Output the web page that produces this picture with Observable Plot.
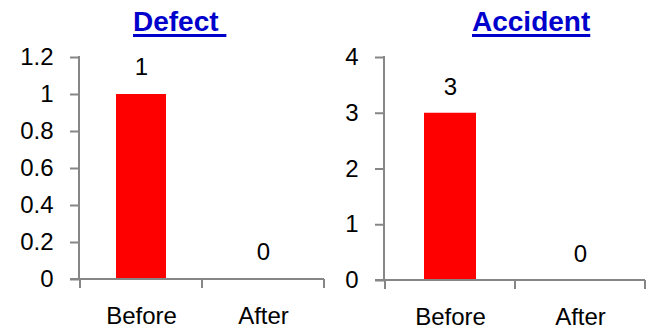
<!DOCTYPE html>
<html>
<head>
<meta charset="utf-8">
<script src="https://cdn.jsdelivr.net/npm/d3@7"></script>
<script src="https://cdn.jsdelivr.net/npm/@observablehq/plot@0.6"></script>
<style>
  html, body { margin: 0; padding: 0; background: #fff; }
  #wrap { position: relative; width: 651px; height: 334px; overflow: hidden; font-family: "Liberation Sans", Arial, sans-serif; }
  .title { position: absolute; top: 8px; font-size: 28px; line-height: 28px; font-weight: bold; color: #0000CC;
           white-space: pre; text-decoration: underline; text-decoration-thickness: 3px; text-underline-offset: 3px; }
  #row { position: absolute; top: 44px; left: 0; display: flex; }
  #row svg { display: block; }
</style>
</head>
<body>
<div id="wrap">
  <span class="title" id="t1" style="left:133px"></span>
  <span class="title" id="t2" style="left:472px"></span>
  <div id="row"></div>
</div>
<script>
const categories = ["Before", "After"];
const defectValues = [1, 0];
const accidentValues = [3, 0];
const defectTicks = [0, 0.2, 0.4, 0.6, 0.8, 1, 1.2];
const accidentTicks = [0, 1, 2, 3, 4];
const chartTitles = ["Defect ", "Accident"];

document.getElementById("t1").textContent = chartTitles[0];
document.getElementById("t2").textContent = chartTitles[1];

const AXIS = "#868686";

function axisLines(cats) {
  return (index, scales, values, dims) => {
    const {x, y} = scales;
    const {width, marginLeft, marginRight, marginTop} = dims;
    const left = marginLeft, right = width - marginRight, y0 = y(0);
    const g = d3.create("svg:g").attr("stroke", AXIS).attr("stroke-width", 2).attr("fill", "none");
    g.append("line").attr("x1", left).attr("x2", left).attr("y1", marginTop - 1).attr("y2", y0);
    g.append("line").attr("x1", left - 9).attr("x2", right).attr("y1", y0).attr("y2", y0);
    const edges = cats.map(c => x(c)).concat([right]);
    for (const e of edges) {
      g.append("line").attr("x1", e).attr("x2", e).attr("y1", y0).attr("y2", y0 + 9);
    }
    return g.node();
  };
}

function chart(values, ticks, opts) {
  const data = categories.map((c, i) => ({cat: c, v: values[i]}));
  return Plot.plot({
    width: opts.width,
    height: 290,
    marginLeft: opts.marginLeft,
    marginRight: opts.marginRight,
    marginTop: 13,
    marginBottom: opts.marginBottom,
    style: {fontFamily: "'Liberation Sans', Arial, sans-serif", fontSize: "24px", color: "black", background: "white", overflow: "visible"},
    x: {domain: categories, padding: 0, axis: null},
    y: {domain: [ticks[0], ticks[ticks.length - 1]], axis: null},
    marks: [
      Plot.barY(data, {x: "cat", y: "v", fill: "#FF0000", insetLeft: opts.inset, insetRight: opts.inset}),
      axisLines(categories),
      Plot.axisY(ticks, {tickSize: 9, tickPadding: 17, stroke: AXIS, strokeWidth: 2, fill: "black", fontSize: 24, tickFormat: d => String(d), label: null}),
      Plot.axisX({tickSize: 0, tickPadding: 27, fill: "black", fontSize: 24, label: null}),
      Plot.text(data, {x: "cat", y: "v", text: d => String(d.v), dy: opts.labelDy, lineAnchor: "middle", fontSize: 24, fill: "black"})
    ]
  });
}

const row = document.getElementById("row");
row.append(chart(defectValues, defectTicks, {width: 330, marginLeft: 79, marginRight: 6, marginBottom: 55, inset: 36, labelDy: -27}));
row.append(chart(accidentValues, accidentTicks, {width: 321, marginLeft: 54, marginRight: 6, marginBottom: 54, inset: 39, labelDy: -26}));
</script>
</body>
</html>
